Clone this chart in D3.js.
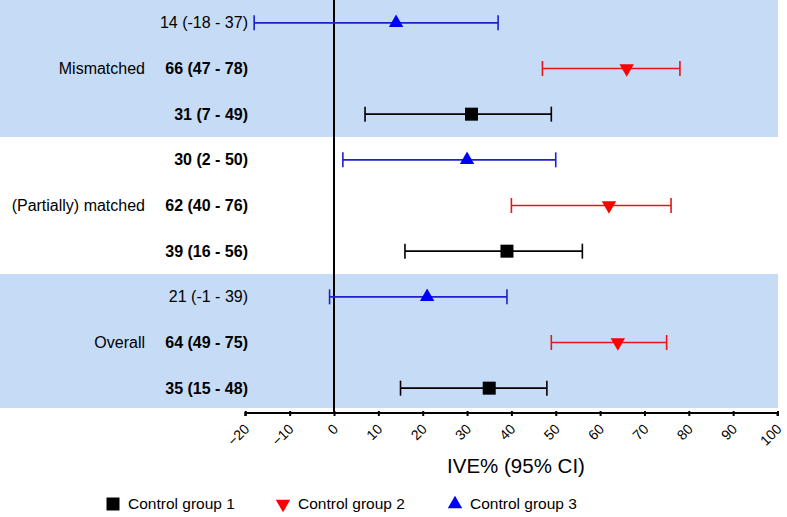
<!DOCTYPE html>
<html><head><meta charset="utf-8">
<script src="https://cdn.jsdelivr.net/npm/d3@7"></script>
<style>body{margin:0;background:#fff}svg{display:block}</style>
</head><body>
<svg id="c" width="787" height="517"></svg>
<script>
const groups = ["Mismatched", "(Partially) matched", "Overall"];
const seriesNames = ["Control group 3", "Control group 2", "Control group 1"];
const estimates = [[14, 66, 31], [30, 62, 39], [21, 64, 35]];
const lower = [[-18, 47, 7], [2, 40, 16], [-1, 49, 15]];
const upper = [[37, 78, 49], [50, 76, 56], [39, 75, 48]];
const boldFlags = [[false, true, true], [true, true, true], [false, true, true]];
const xTicks = [-20, -10, 0, 10, 20, 30, 40, 50, 60, 70, 80, 90, 100];
const legendNames = ["Control group 1", "Control group 2", "Control group 3"];

const FONT = "Liberation Sans, Arial, sans-serif";
const colors = {"Control group 1": "#000000", "Control group 2": "#ff0000", "Control group 3": "#0000ff"};
const lineColors = {"Control group 1": "#000000", "Control group 2": "#e8141a", "Control group 3": "#1f1fcf"};
const shapes = {"Control group 1": d3.symbolSquare, "Control group 2": "down", "Control group 3": d3.symbolTriangle};
const sizes = {"Control group 1": 169, "Control group 2": 90, "Control group 3": 90};

const svg = d3.select("#c");
const x = d3.scaleLinear().domain([-20, 100]).range([245.3, 777.5]);
const rows = [];
groups.forEach((g, gi) => seriesNames.forEach((s, si) => rows.push({g, gi, s, si,
  est: estimates[gi][si], lo: lower[gi][si], hi: upper[gi][si], bold: boldFlags[gi][si]})));
const y = d3.scaleBand().domain(d3.range(rows.length)).range([0, 411]);
const yc = i => y(i) + y.bandwidth() / 2;

// bands
const bandColor = "#c6dcf6";
[0, 2].forEach(gi => {
  svg.append("rect").attr("x", 0).attr("width", x(100) + 0.5)
    .attr("y", y(gi * 3)).attr("height", y.bandwidth() * 3 - (gi === 2 ? 3 : 0))
    .attr("fill", bandColor);
});

// zero line
svg.append("line").attr("x1", x(0)).attr("x2", x(0)).attr("y1", 0).attr("y2", 413)
  .attr("stroke", "#000").attr("stroke-width", 2);

// axis
const axisG = svg.append("g").attr("transform", "translate(0,413)")
  .call(d3.axisBottom(x).tickValues(xTicks).tickSize(4).tickFormat(d3.format("d")));
axisG.select(".domain").attr("stroke-width", 2).attr("d", `M${x(-20)},3V0H${x(100)}V3`);
axisG.selectAll(".tick line").attr("stroke-width", 2).attr("y1", -2).attr("y2", 3);
axisG.selectAll(".tick text").attr("font-family", FONT)
  .attr("font-size", 14).attr("fill", "#000")
  .attr("text-anchor", "end").attr("y", 0).attr("dy", "0.35em")
  .attr("transform", "translate(1,13.5) rotate(-45)");

svg.append("text").attr("x", 516).attr("y", 473).attr("text-anchor", "middle")
  .attr("font-family", FONT).attr("font-size", 20.5)
  .text("IVE% (95% CI)");

// error bars
const sym = s => d3.symbol(shapes[s] === "down" ? d3.symbolTriangle : shapes[s], sizes[s])();
rows.forEach((r, i) => {
  const c = lineColors[r.s];
  const cy = yc(i);
  const g = svg.append("g");
  g.append("line").attr("x1", x(r.lo)).attr("x2", x(r.hi)).attr("y1", cy).attr("y2", cy).attr("stroke", c).attr("stroke-width", 1.6);
  [r.lo, r.hi].forEach(v => g.append("line").attr("x1", x(v)).attr("x2", x(v)).attr("y1", cy - 7.5).attr("y2", cy + 7.5).attr("stroke", c).attr("stroke-width", 1.6));
  g.append("path").attr("d", sym(r.s))
    .attr("transform", `translate(${x(r.est)},${cy})` + (shapes[r.s] === "down" ? " rotate(180)" : ""))
    .attr("fill", colors[r.s]);
  svg.append("text").attr("x", 248).attr("y", cy).attr("dy", "0.35em").attr("text-anchor", "end")
    .attr("font-family", FONT).attr("font-size", 16)
    .attr("font-weight", r.bold ? "bold" : "normal").text(`${r.est} (${r.lo} - ${r.hi})`);
  if (r.si === 1) {
    svg.append("text").attr("x", 145).attr("y", cy).attr("dy", "0.35em").attr("text-anchor", "end")
      .attr("font-family", FONT).attr("font-size", 16).text(r.g);
  }
});

// legend
const legX = [113, 283, 455];
legendNames.forEach((n, i) => {
  svg.append("path").attr("d", sym(n))
    .attr("transform", `translate(${legX[i]},504)` + (shapes[n] === "down" ? " rotate(180)" : ""))
    .attr("fill", colors[n]);
  svg.append("text").attr("x", legX[i] + 15).attr("y", 504).attr("dy", "0.35em")
    .attr("font-family", FONT).attr("font-size", 15.5).text(n);
});
</script>
</body></html>
